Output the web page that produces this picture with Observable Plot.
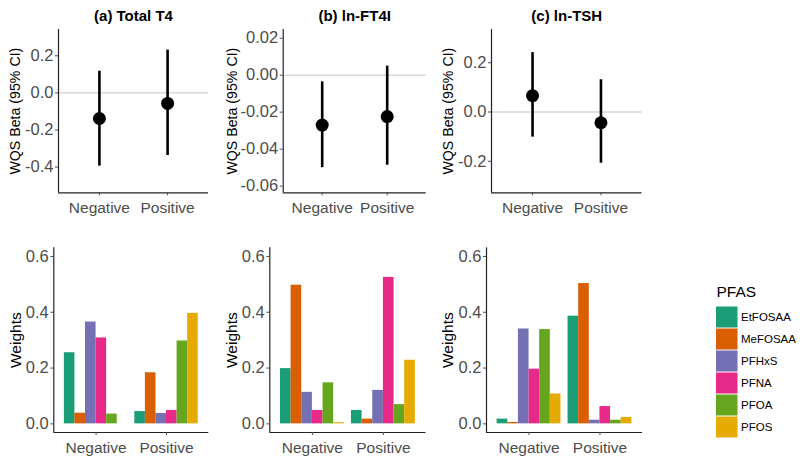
<!DOCTYPE html>
<html><head><meta charset="utf-8">
<script src="https://cdn.jsdelivr.net/npm/d3@7"></script>
<script src="https://cdn.jsdelivr.net/npm/@observablehq/plot@0.6"></script>
<style>
body{margin:0;background:#fff;}
#chart{position:relative;width:800px;height:461px;}
#chart svg{position:absolute;left:0;top:0;}
</style></head><body><div id="chart"></div>
<script>
// ---- data ----
const categories = ["Negative", "Positive"];
const pfasNames = ["EtFOSAA", "MeFOSAA", "PFHxS", "PFNA", "PFOA", "PFOS"];
const pfasColors = ["#1B9E77", "#D95F02", "#7570B3", "#E7298A", "#66A61E", "#E6AB02"];

const betaT4 = [-0.138, -0.057];
const lowT4 = [-0.395, -0.338];
const highT4 = [0.117, 0.231];

const betaFT4 = [-0.0270, -0.0224];
const lowFT4 = [-0.0500, -0.0487];
const highFT4 = [-0.0036, 0.0049];

const betaTSH = [0.0665, -0.0437];
const lowTSH = [-0.102, -0.208];
const highTSH = [0.241, 0.131];

const wT4Neg = [0.255, 0.038, 0.365, 0.308, 0.035, 0.0];
const wT4Pos = [0.044, 0.183, 0.037, 0.048, 0.297, 0.396];
const wFT4Neg = [0.198, 0.497, 0.113, 0.048, 0.147, 0.004];
const wFT4Pos = [0.048, 0.017, 0.120, 0.525, 0.069, 0.228];
const wTSHNeg = [0.017, 0.005, 0.340, 0.196, 0.338, 0.107];
const wTSHPos = [0.386, 0.503, 0.013, 0.062, 0.013, 0.023];

const ticksT4 = [-0.4, -0.2, 0.0, 0.2];
const ticksFT4 = [-0.06, -0.04, -0.02, 0.00, 0.02];
const ticksTSH = [-0.2, 0.0, 0.2];
const ticksW = [0.0, 0.2, 0.4, 0.6];

// ---- layout ----
const W = 800, H = 461;
const FONT = "'Liberation Sans', Arial, sans-serif";
const colorOpt = {domain: pfasNames, range: pfasColors};
const chart = document.getElementById("chart");

function axesMarks(domain, ticks, digits, labelText, labelDx, labelSize, title) {
  const marks = [
    Plot.ruleX([0.4], {stroke: "#222", strokeWidth: 1.2}),
    Plot.ruleY([domain[0]], {stroke: "#222", strokeWidth: 1.2}),
    Plot.axisX({ticks: [1, 2], tickFormat: i => categories[i - 1], tickSize: 3, tickPadding: 6,
      fontSize: 15.5, color: "#4d4d4d", label: null}),
    Plot.axisY({ticks, tickFormat: d => d.toFixed(digits), tickSize: 3, tickPadding: 2,
      fontSize: 16.5, color: "#4d4d4d", label: null}),
    Plot.text([labelText], {text: d => d, frameAnchor: "left", rotate: -90, dx: labelDx,
      textAnchor: "middle", lineAnchor: "middle", fontSize: labelSize, fill: "#000"})
  ];
  if (title) marks.push(Plot.text([title], {text: d => d, frameAnchor: "top", dy: -13,
    textAnchor: "middle", lineAnchor: "middle", fontSize: 15, fontWeight: "bold", fill: "#000"}));
  return marks;
}

function betaPanel({title, beta, low, high, domain, ticks, digits, left, right, labelDx}) {
  const rows = categories.map((c, i) => ({i: i + 1, cat: c, beta: beta[i], low: low[i], high: high[i]}));
  return Plot.plot({
    width: W, height: H,
    marginLeft: left, marginRight: W - right, marginTop: 29, marginBottom: H - 192.3,
    style: {background: "transparent", fontFamily: FONT, overflow: "visible"},
    x: {type: "linear", domain: [0.4, 2.6], axis: null},
    y: {domain, axis: null},
    marks: [
      Plot.ruleY([0], {stroke: "#c4c4c4", strokeWidth: 1}),
      Plot.ruleX(rows, {x: "i", y1: "low", y2: "high", stroke: "#000", strokeWidth: 2.6}),
      Plot.dot(rows, {x: "i", y: "beta", r: 6.5, fill: "#000", stroke: "none"}),
      ...axesMarks(domain, ticks, digits, "WQS Beta (95% CI)", labelDx, 14.2, title)
    ]
  });
}

function weightPanel({neg, pos, left, right, labelDx}) {
  const rows = [];
  [neg, pos].forEach((vals, ci) => {
    vals.forEach((w, k) => {
      rows.push({cat: categories[ci], pfas: pfasNames[k], w,
        x1: ci + 1 - 0.45 + k * 0.15, x2: ci + 1 - 0.45 + (k + 1) * 0.15});
    });
  });
  const domain = [-0.031, 0.631];
  return Plot.plot({
    width: W, height: H,
    marginLeft: left, marginRight: W - right, marginTop: 247.3, marginBottom: H - 432,
    style: {background: "transparent", fontFamily: FONT, overflow: "visible"},
    x: {type: "linear", domain: [0.4, 2.6], axis: null},
    y: {domain, axis: null},
    color: colorOpt,
    marks: [
      Plot.rectY(rows, {x1: "x1", x2: "x2", y1: d => 0, y2: "w", fill: "pfas"}),
      ...axesMarks(domain, ticksW, 1, "Weights", labelDx, 15.5, null)
    ]
  });
}

function legendPanel() {
  return Plot.plot({
    width: W, height: H,
    marginLeft: 716, marginRight: W - 737.5, marginTop: 305.7, marginBottom: H - 437.7,
    style: {background: "transparent", fontFamily: FONT, overflow: "visible"},
    y: {domain: pfasNames, axis: null, padding: 0},
    color: colorOpt,
    marks: [
      Plot.cell(pfasNames, {y: d => d, fill: d => d, insetTop: 0.5, insetBottom: 0.5}),
      Plot.text(pfasNames, {y: d => d, text: d => d, frameAnchor: "right", textAnchor: "start",
        lineAnchor: "middle", dx: 3, fontSize: 11.5, fill: "#000"}),
      Plot.text(["PFAS"], {text: d => d, frameAnchor: "top-left", textAnchor: "start",
        lineAnchor: "middle", dy: -14, fontSize: 15.5, fill: "#000"})
    ]
  });
}

const plots = [
  betaPanel({title: "(a) Total T4", beta: betaT4, low: lowT4, high: highT4,
    domain: [-0.539, 0.342], ticks: ticksT4, digits: 1, left: 58, right: 208, labelDx: -43}),
  betaPanel({title: "(b) ln-FT4I", beta: betaFT4, low: lowFT4, high: highFT4,
    domain: [-0.0636, 0.0247], ticks: ticksFT4, digits: 2, left: 282.7, right: 425.7, labelDx: -51}),
  betaPanel({title: "(c) ln-TSH", beta: betaTSH, low: lowTSH, high: highTSH,
    domain: [-0.328, 0.335], ticks: ticksTSH, digits: 1, left: 491, right: 641.5, labelDx: -42.7}),
  weightPanel({neg: wT4Neg, pos: wT4Pos, left: 53.3, right: 208.3, labelDx: -38}),
  weightPanel({neg: wFT4Neg, pos: wFT4Pos, left: 269.3, right: 425.5, labelDx: -37.6}),
  weightPanel({neg: wTSHNeg, pos: wTSHPos, left: 486, right: 642, labelDx: -38.3}),
  legendPanel()
];
plots.forEach(p => chart.appendChild(p));
</script>
</body></html>
